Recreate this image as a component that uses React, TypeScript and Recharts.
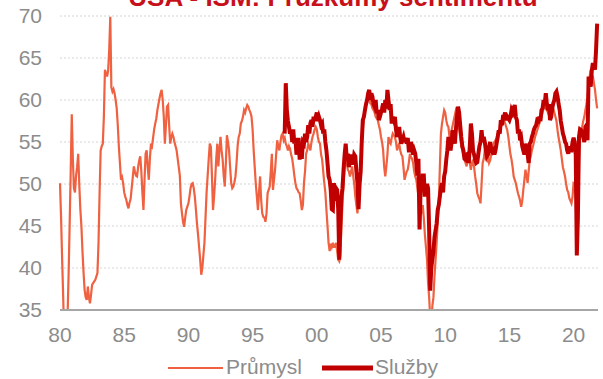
import { CartesianGrid, Line, LineChart, XAxis, YAxis } from 'recharts'

const START_YEAR = 1980
// ISM služby začínají v červenci 1997 (210 měsíců po lednu 1980)
const SLUZBY_OFFSET = 210

const X_TICKS = [1980, 1985, 1990, 1995, 2000, 2005, 2010, 2015, 2020]
const Y_TICKS = [35, 40, 45, 50, 55, 60, 65, 70]

// ISM zpracovatelský průmysl, měsíčně 1/1980 – 11/2021
const prumysl = [
  50.1, 46.0, 41.0, 36.5, 31.0, 30.5, 32.0, 34.0, 39.0, 45.0, 51.5, 58.3,
  53.0, 49.5, 49.0, 51.0, 52.0, 53.6, 50.0, 47.0, 45.0, 42.0, 39.5, 37.4,
  36.5, 36.2, 37.8, 36.5, 35.8, 36.8, 38.0, 38.2, 38.4, 38.6, 39.0, 39.4,
  43.0, 49.0, 54.0, 54.5, 54.8, 58.0, 63.6, 63.2, 62.8, 63.5, 66.0, 69.9,
  61.5, 61.0, 61.3, 60.8, 60.0, 59.0, 57.0, 54.5, 52.5, 50.5, 50.8, 50.1,
  49.0, 48.5, 48.1, 47.5, 47.1, 47.8, 48.2, 49.5, 50.8, 52.1, 51.5, 51.0,
  50.9, 52.0, 52.8, 53.3, 51.5, 49.0, 46.9, 50.5, 53.6, 54.0, 52.0, 50.5,
  53.0, 54.8, 54.5, 55.5, 56.5, 57.2, 57.8, 58.8, 59.5, 60.2, 60.8, 61.2,
  60.0, 58.0, 54.8, 57.0, 59.2, 59.4, 57.0, 54.8, 55.6, 56.0, 55.6, 55.0,
  54.5, 54.0, 53.0, 52.0, 51.0, 47.7, 46.5, 45.5, 44.9, 46.0, 46.9, 47.3,
  47.7, 48.5, 49.5, 50.0, 50.1, 49.5, 48.5, 47.0, 45.3, 44.0, 42.5, 41.0,
  39.2, 40.0, 41.5, 43.0, 46.0, 49.0, 51.0, 53.0, 54.8, 54.4, 51.0, 46.9,
  48.5, 50.5, 53.0, 54.8, 52.1, 54.0, 55.6, 54.0, 52.9, 51.0, 49.7, 52.5,
  55.8, 55.0, 54.0, 52.0, 50.1, 49.5, 49.7, 50.2, 50.9, 52.5, 54.5, 55.6,
  56.0, 57.2, 57.5, 58.0, 58.8, 58.5, 59.0, 59.4, 59.2, 58.8, 58.5, 58.0,
  56.5, 54.0, 52.0, 50.0, 48.5, 46.9, 49.0, 50.9, 48.1, 46.5, 46.1, 46.0,
  45.5, 46.5, 48.9, 49.3, 49.7, 51.5, 53.6, 49.3, 50.5, 51.7, 53.5, 55.2,
  54.5, 54.0, 55.0, 55.8, 56.0, 55.2, 55.5, 54.8, 54.5, 54.0, 54.5, 54.2,
  53.5, 53.0, 52.1, 51.0, 50.1, 49.5, 49.3, 49.0, 48.9, 48.0, 46.9, 47.5,
  50.1, 51.5, 53.6, 54.0, 54.8, 54.5, 54.0, 55.0, 55.6, 56.0, 56.5, 56.8,
  56.5, 55.6, 55.0, 54.8, 53.5, 52.9, 51.5, 50.1, 49.0, 46.9, 45.0, 43.0,
  42.0, 42.9, 42.5, 43.0, 42.5, 42.5, 43.0, 42.0, 41.0, 40.8, 41.5, 44.9,
  47.5, 50.1, 52.0, 53.6, 52.5, 51.7, 51.5, 50.9, 51.5, 52.1, 51.0, 50.0,
  48.5, 47.5, 46.5, 48.5, 50.1, 52.0, 54.8, 56.5, 58.0, 59.0, 59.6, 60.3,
  60.8, 60.5, 59.6, 59.5, 59.0, 58.8, 58.5, 58.0, 57.8, 57.6, 57.0, 56.5,
  55.6, 55.0, 54.0, 52.0, 50.9, 52.1, 53.5, 55.6, 55.0, 54.8, 55.5, 56.0,
  55.8, 55.6, 55.0, 54.0, 54.5, 54.8, 54.0, 53.5, 53.3, 52.0, 50.5, 51.0,
  51.5, 51.7, 52.5, 53.6, 53.2, 53.0, 52.5, 51.5, 50.9, 50.5, 49.5, 48.5,
  49.0, 47.0, 46.5, 47.5, 46.0, 44.0, 42.5, 41.0, 38.2, 36.5, 34.0, 33.0,
  35.5, 36.5, 39.0, 41.0, 43.0, 45.5, 47.7, 52.0, 56.0, 57.2, 58.0, 58.8,
  58.5, 57.6, 57.0, 56.8, 55.6, 56.0, 56.4, 57.0, 57.6, 58.2, 58.8, 58.5,
  57.6, 56.5, 55.6, 54.5, 54.0, 53.5, 52.9, 52.5, 52.1, 53.0, 53.6, 52.5,
  51.7, 52.5, 52.9, 52.0, 50.9, 50.0, 48.9, 48.5, 48.2, 47.7, 50.0, 52.5,
  53.0, 54.0, 53.0, 52.8, 53.3, 52.5, 52.8, 53.5, 54.0, 54.8, 55.0, 55.2,
  55.5, 56.0, 56.2, 56.5, 56.8, 57.0, 57.3, 57.6, 57.2, 56.8, 56.4, 55.6,
  54.5, 53.5, 52.9, 52.0, 50.9, 50.5, 50.1, 49.5, 48.9, 48.5, 48.0, 47.3,
  48.0, 49.3, 50.5, 51.7, 51.0, 50.1, 51.5, 52.9, 53.3, 54.0, 54.5, 55.0,
  55.6, 56.0, 56.4, 56.8, 57.2, 57.5, 58.0, 58.5, 59.0, 59.2, 59.0, 58.8,
  58.5, 58.2, 58.0, 58.5, 58.8, 59.0, 58.5, 58.0, 57.5, 56.4, 55.5, 54.8,
  54.0, 53.0, 52.0, 51.5, 50.9, 50.0, 49.3, 49.0, 48.3, 48.0, 47.7, 48.5,
  50.1, 50.0, 48.5, 43.0, 47.0, 52.9, 55.6, 56.0, 56.8, 57.5, 58.0, 58.8,
  59.5, 60.4, 61.5, 62.8, 63.6, 63.0, 62.8, 62.0, 61.2, 60.0, 59.0,
]

// ISM služby, měsíčně 7/1997 – 11/2021
const sluzby = [
  56.0, 62.0, 58.8, 57.5, 56.8, 56.0,
  56.5, 55.0, 56.5, 54.8, 55.5, 53.5, 54.0, 55.5, 52.9, 54.5, 53.0, 55.0,
  54.8, 56.0, 55.0, 55.6, 57.0, 56.0, 57.2, 57.6, 56.8, 58.0, 57.5, 58.0,
  58.5, 57.5, 58.0, 57.6, 57.0, 57.2, 56.0, 56.5, 55.0, 54.0, 52.5, 50.9,
  50.5, 49.3, 47.0, 46.9, 50.1, 48.0, 49.5, 49.3, 47.0, 41.0, 45.0, 48.5,
  49.5, 51.7, 53.5, 54.8, 53.0, 53.6, 52.0, 52.9, 53.5, 52.5, 52.5, 53.5,
  53.3, 51.5, 50.1, 47.0, 50.0, 51.5, 55.0, 57.6, 58.0, 58.8, 59.5, 60.0,
  60.8, 61.2, 60.0, 60.8, 60.4, 59.5, 59.2, 60.0, 58.4, 58.8, 57.6, 58.0,
  58.5, 59.0, 59.6, 58.5, 60.0, 59.0, 61.2, 60.0, 58.8, 59.5, 57.2, 58.0,
  57.6, 58.0, 56.5, 55.6, 56.0, 56.8, 55.5, 54.8, 55.2, 55.6, 55.0, 55.5,
  54.8, 55.5, 54.0, 54.0, 55.0, 54.4, 53.5, 54.0, 53.6, 52.5, 51.0, 53.0,
  44.6, 49.3, 49.6, 51.0, 51.0, 48.5, 49.5, 50.0, 49.5, 44.4, 37.3, 40.0,
  41.0, 42.0, 43.7, 44.5, 45.3, 46.9, 47.5, 48.5, 49.5, 50.1, 49.0, 50.9,
  51.5, 52.9, 54.0, 55.6, 55.0, 54.0, 55.0, 56.4, 55.5, 54.8, 56.5, 58.0,
  59.2, 58.5, 57.0, 55.6, 54.5, 54.0, 53.0, 52.9, 53.5, 53.6, 52.5, 54.5,
  57.2, 56.0, 54.0, 53.5, 52.9, 52.5, 52.6, 53.6, 54.5, 55.0, 56.4, 55.0,
  55.6, 55.0, 54.0, 53.3, 53.5, 54.4, 55.0, 54.0, 53.8, 54.0, 53.5, 54.0,
  54.8, 55.5, 56.4, 56.0, 57.6, 57.0, 58.0, 58.0, 58.5, 57.6, 58.0, 57.8,
  57.6, 58.0, 58.8, 58.5, 59.0, 59.4, 58.0, 57.6, 56.0, 56.5, 55.2, 55.5,
  54.5, 54.0, 53.5, 54.8, 54.0, 53.6, 52.5, 54.8, 55.0, 55.6, 56.0, 56.5,
  56.8, 57.0, 57.6, 57.5, 58.0, 57.5, 58.8, 59.0, 60.0, 59.5, 60.8, 59.5,
  58.8, 59.5, 57.6, 58.0, 59.0, 59.6, 60.0, 60.8, 61.0, 60.4, 59.5, 58.8,
  57.5, 56.8, 56.0, 55.6, 55.0, 54.8, 54.0, 53.6, 54.5, 54.0, 54.0, 55.0,
  55.5, 55.0, 53.5, 41.5, 46.0, 55.6, 56.5, 56.4, 55.8, 55.6, 55.0, 56.8,
  57.0, 55.2, 62.8, 62.0, 61.6, 63.5, 64.4, 64.0, 63.6, 66.0, 69.1,
]

const FONT = '"Liberation Sans", Arial, sans-serif'
const GREY = '#8c8c8c'
const C_PRUMYSL = '#ef6140'
const C_SLUZBY = '#c00000'

const data = prumysl.map((v, i) => ({
  t: START_YEAR + i / 12,
  prumysl: v,
  sluzby: i >= SLUZBY_OFFSET ? sluzby[i - SLUZBY_OFFSET] ?? null : null,
}))

export default function App() {
  return (
    <div style={{ position: 'absolute', left: 0, top: 0, width: 603, height: 379, overflow: 'hidden', background: '#fff' }}>
      <LineChart width={603} height={379} data={data} margin={{ top: 16, right: 5, left: 0, bottom: 0 }}>
        <CartesianGrid vertical={false} stroke="#d4d4d4" strokeDasharray="2 2" />
        <XAxis
          dataKey="t"
          type="number"
          domain={[1980, 2021.9]}
          ticks={X_TICKS}
          tickFormatter={(v) => String(v).slice(2)}
          tickLine={false}
          axisLine={{ stroke: '#a6a6a6', strokeWidth: 2 }}
          tickMargin={11}
          height={69}
          tick={{ fill: GREY, fontSize: 21, fontFamily: FONT }}
        />
        <YAxis
          type="number"
          domain={[35, 70]}
          ticks={Y_TICKS}
          allowDataOverflow
          axisLine={false}
          tickLine={false}
          tickMargin={12}
          width={60}
          tick={{ fill: GREY, fontSize: 21, fontFamily: FONT }}
        />
        <Line type="linear" dataKey="prumysl" stroke={C_PRUMYSL} strokeWidth={2.2} dot={false} isAnimationActive={false} />
        <Line type="linear" dataKey="sluzby" stroke={C_SLUZBY} strokeWidth={4} dot={false} isAnimationActive={false} />
      </LineChart>
      <svg width={603} height={379} style={{ position: 'absolute', left: 0, top: 0, pointerEvents: 'none' }}>
        <text x={333} y={6} textAnchor="middle" fontFamily={FONT} fontWeight="bold" fontSize={26} fill="#c8101a">
          USA - ISM: Průzkumy sentimentu
        </text>
        <line x1={168} x2={223} y1={368} y2={368} stroke={C_PRUMYSL} strokeWidth={2} />
        <text x={226} y={374} fontFamily={FONT} fontSize={21} fill={GREY}>Průmysl</text>
        <line x1={322} x2={373} y1={368} y2={368} stroke={C_SLUZBY} strokeWidth={5} />
        <text x={375} y={374} fontFamily={FONT} fontSize={21} fill={GREY}>Služby</text>
      </svg>
    </div>
  )
}
